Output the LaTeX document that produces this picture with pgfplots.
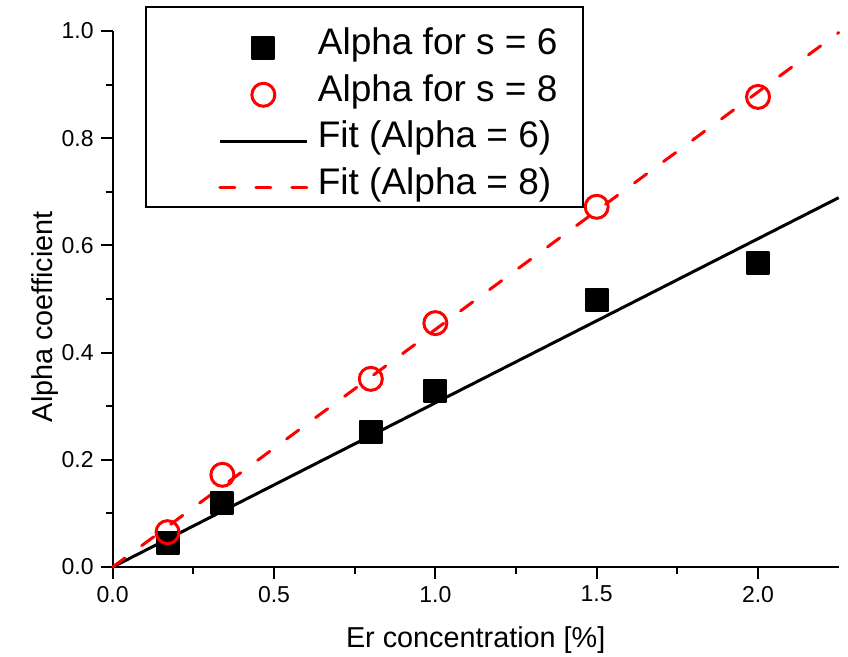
\documentclass[border=0pt]{standalone}
\usepackage{fontspec}
\setmainfont{Liberation Sans}
\usepackage{pgfplots}
\pgfplotsset{compat=1.18}
\begin{document}
\begin{tikzpicture}
\begin{axis}[
  name=ax,
  at={(0,0)}, anchor=south west,
  scale only axis,
  width=363pt, height=268pt,
  xmin=0, xmax=2.25, ymin=0, ymax=1,
  axis lines=left,
  axis line style={-, line width=1pt},
  tick align=outside,
  major tick length=6pt, minor tick length=3.5pt,
  every tick/.style={black, line width=1pt},
  xtick={0,0.5,1.0,1.5,2.0},
  ytick={0,0.2,0.4,0.6,0.8,1.0},
  minor x tick num=1, minor y tick num=1,
  xticklabels={0.0,0.5,1.0,1.5,2.0},
  yticklabels={0.0,0.2,0.4,0.6,0.8,1.0},
  /pgf/number format/assume math mode=true,
  tick label style={font=\fontsize{11.5}{13.8}\selectfont},
  label style={font=\fontsize{14.4}{17}\selectfont},
  xlabel={Er concentration [\%]},
  ylabel={Alpha coefficient},
  xlabel style={at={(axis description cs:0.5,0)}, anchor=base, yshift=-40.5pt},
  ylabel style={at={(axis description cs:-0.0836,0.467)}, anchor=base, rotate=0},
  clip=false,
  legend cell align=left,
  legend image code/.code={
    \path[draw=none, fill=none] (0pt,-6pt) rectangle (49pt,6pt);
    \draw[mark repeat=2,mark phase=2,#1] plot coordinates {(0pt,0pt) (21.75pt,0pt) (43.5pt,0pt)};
  },
  legend style={
    draw=none, fill=none, inner sep=0pt, row sep=0pt, column sep=0pt,
    at={(rel axis cs:0.145,1.0116)}, anchor=north west,
    nodes={inner sep=0pt, text height=14.9pt, text depth=8.3pt,
           font=\fontsize{18.5}{22}\selectfont},
  },
]
\addplot[only marks, mark=square*, mark size=5.5pt, black, mark options={line width=1pt, line join=round}]
  coordinates {(0.17,0.045) (0.34,0.119) (0.80,0.252) (1.00,0.328) (1.50,0.498) (2.00,0.567)};
\addlegendentry{Alpha for s = 6}
\addplot[only marks, mark=o, mark size=5.75pt, red, mark options={line width=1.5pt}]
  coordinates {(0.17,0.065) (0.34,0.172) (0.80,0.351) (1.00,0.455) (1.50,0.672) (2.00,0.877)};
\addlegendentry{Alpha for s = 8}
\addplot[black, line width=1.5pt, no marks]
  coordinates {(0,0) (2.25,0.689)};
\addlegendentry{Fit (Alpha = 6)}
\addplot[red, line width=1.5pt, no marks, dash pattern=on 7.5pt off 10.5pt, line cap=round]
  coordinates {(0,0) (2.25,0.997)};
\addlegendentry{Fit (Alpha = 8)}
\draw[black, line width=0.6pt] (rel axis cs:0.0459,1.0448) rectangle (rel axis cs:0.6478,0.6716);
\end{axis}
\pgfresetboundingbox
\path[use as bounding box] (ax.south west) ++(-56.35pt,-45pt) rectangle ++(424pt,328.5pt);
\end{tikzpicture}
\end{document}
